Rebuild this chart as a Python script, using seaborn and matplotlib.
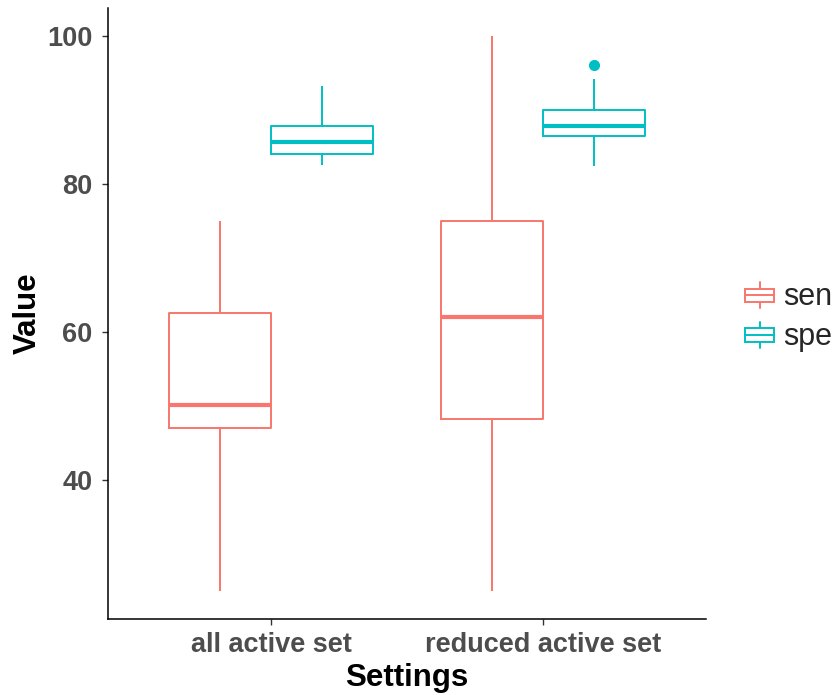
import numpy as np
import pandas as pd
import matplotlib
matplotlib.use("Agg")
import matplotlib.pyplot as plt
import seaborn as sns
from matplotlib.legend_handler import HandlerBase
from matplotlib.lines import Line2D
from matplotlib.patches import Rectangle

# Categories
settings = ["all active set", "reduced active set"]
measures = ["sen", "spe"]
palette = {"sen": "#F8766D", "spe": "#00BFC4"}

# Box summaries per setting: lower whisker, Q1, median, Q3, upper whisker, outliers
sen_low = [25.0, 25.0]
sen_q1 = [47.0, 48.3]
sen_median = [50.1, 62.0]
sen_q3 = [62.6, 75.0]
sen_high = [75.0, 100.0]
sen_outliers = [[], []]

spe_low = [82.5, 82.4]
spe_q1 = [84.0, 86.4]
spe_median = [85.7, 87.8]
spe_q3 = [87.8, 90.0]
spe_high = [93.2, 94.1]
spe_outliers = [[], [96.1]]


def sample_from_summary(low, q1, med, q3, high, outliers, m=20):
    """Observations whose quartiles, whisker ends and fliers equal the summary."""
    return [low] + [q1] * m + [med] * m + [q3] * m + [high] + list(outliers)


summaries = {
    "sen": (sen_low, sen_q1, sen_median, sen_q3, sen_high, sen_outliers),
    "spe": (spe_low, spe_q1, spe_median, spe_q3, spe_high, spe_outliers),
}
rows = []
for measure in measures:
    lo, q1, md, q3, hi, out = summaries[measure]
    for i, s in enumerate(settings):
        for v in sample_from_summary(lo[i], q1[i], md[i], q3[i], hi[i], out[i]):
            rows.append({"Settings": s, "variable": measure, "Value": v})
df = pd.DataFrame(rows)

sns.set_theme(style="ticks")
plt.rcParams["font.family"] = ["Liberation Sans", "DejaVu Sans"]

W, H = 836, 695
fig = plt.figure(figsize=(W / 100, H / 100), dpi=100)
ax = fig.add_axes([108 / W, 1 - 619 / H, (706 - 108) / W, (619 - 8) / H])

sns.boxplot(
    data=df, x="Settings", y="Value", hue="variable",
    order=settings, hue_order=measures, palette=palette,
    fill=False, width=0.75, gap=0, linewidth=1.4, showcaps=False,
    fliersize=7, medianprops={"linewidth": 3.0}, legend=False, ax=ax,
)

# filled outlier points
for ln in ax.lines:
    if ln.get_marker() == "o":
        ln.set_markerfacecolor(ln.get_markeredgecolor())

ax.set_xlim(-0.6, 1.6)
ax.set_ylim(21.25, 103.75)
ax.set_yticks([40, 60, 80, 100])
sns.despine(ax=ax)
for side in ("left", "bottom"):
    ax.spines[side].set_color("black")
    ax.spines[side].set_linewidth(1.1)
ax.tick_params(axis="both", length=4, width=1.0, color="#333333",
               labelsize=19.5, labelcolor="#4D4D4D")
ax.tick_params(axis="y", pad=7)
ax.tick_params(axis="x", pad=5)
for lab in ax.get_xticklabels() + ax.get_yticklabels():
    lab.set_fontweight("bold")
ax.set_xlabel("Settings", fontsize=22.5, fontweight="bold", color="black", labelpad=4)
ax.set_ylabel("Value", fontsize=22.5, fontweight="bold", color="black", labelpad=3)


class BoxKey:
    def __init__(self, color):
        self.color = color


class BoxKeyHandler(HandlerBase):
    def create_artists(self, legend, orig_handle, xdescent, ydescent,
                       width, height, fontsize, trans):
        c = orig_handle.color
        x0, y0 = -xdescent, -ydescent
        xm = x0 + width / 2
        arts = [
            Line2D([xm, xm], [y0, y0 + 0.22 * height], color=c, lw=1.4),
            Line2D([xm, xm], [y0 + 0.74 * height, y0 + height], color=c, lw=1.4),
            Rectangle((x0, y0 + 0.22 * height), width, 0.52 * height,
                      facecolor="none", edgecolor=c, lw=1.4),
            Line2D([x0, x0 + width], [y0 + 0.48 * height] * 2, color=c, lw=1.4),
        ]
        for a in arts:
            a.set_transform(trans)
        return arts


handles = [BoxKey(palette[m]) for m in measures]
fig.legend(handles, measures, handler_map={BoxKey: BoxKeyHandler()},
           loc="center left", bbox_to_anchor=(745 / W, 1 - 317 / H),
           frameon=False, fontsize=22, handlelength=0.95, handleheight=0.95,
           handletextpad=0.3, labelspacing=0.3, borderpad=0, borderaxespad=0)

fig.savefig("out.png", dpi=100)
